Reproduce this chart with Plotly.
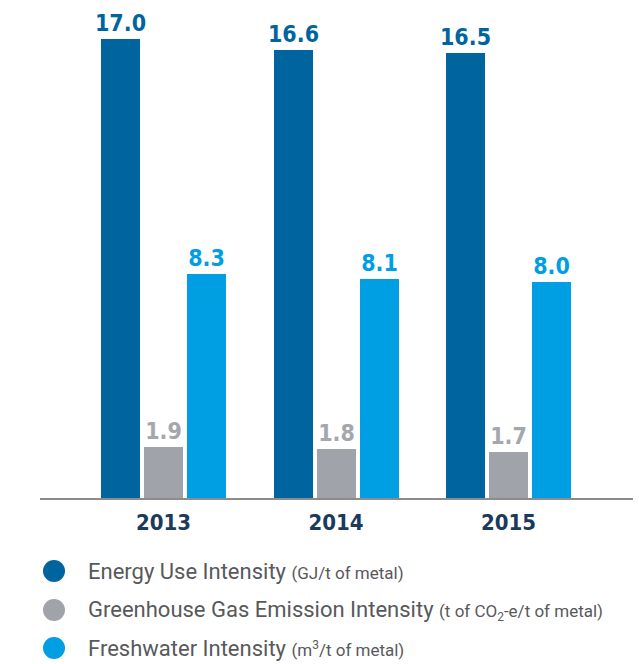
import plotly.graph_objects as go

years = ["2013", "2014", "2015"]
energy = [17.0, 16.6, 16.5]
ghg = [1.9, 1.8, 1.7]
freshwater = [8.3, 8.1, 8.0]

series_names = ["Energy Use Intensity", "Greenhouse Gas Emission Intensity", "Freshwater Intensity"]
series_units = ["(GJ/t of metal)", "(t of CO<sub>2</sub>-e/t of metal)", "(m<sup>3</sup>/t of metal)"]
bar_colors = ["#00649F", "#A0A4AA", "#009FE3"]
label_colors = ["#00649F", "#A4A7AC", "#009FE3"]

W, H = 639, 664
L, R, T, B = 40, 6, 0, 166
plot_w = W - L - R
plot_h = H - T - B

def px_x(px):
    return (px - L) / plot_w

def px_y(py):
    return (H - B - py) / plot_h

fig = go.Figure()

xs = list(range(len(years)))
bar_w = 0.226
offsets = [-0.362, -0.113, 0.136]
for vals, name, col, lcol, off in zip([energy, ghg, freshwater], series_names,
                                      bar_colors, label_colors, offsets):
    fig.add_trace(go.Bar(
        x=xs, y=vals, name=name, width=bar_w, offset=off,
        marker=dict(color=col, line=dict(width=0)),
        text=[f"{v:.1f}" for v in vals], textposition="outside",
        constraintext="none",
        textfont=dict(family="DejaVu Sans Condensed", size=23, color=lcol, weight="bold"),
        cliponaxis=False, showlegend=False,
    ))

px_per_unit = 27.0
fig.update_layout(
    width=W, height=H,
    margin=dict(l=L, r=R, t=T, b=B, pad=0),
    paper_bgcolor="white", plot_bgcolor="white",
    xaxis=dict(
        tickmode="array", tickvals=xs, ticktext=years,
        range=[-0.716, 2.721],
        showgrid=False, zeroline=False,
        showline=True, linecolor="#8C8C8C", linewidth=2,
        ticks="outside", ticklen=4, tickcolor="rgba(0,0,0,0)",
        tickfont=dict(family="DejaVu Sans Condensed", size=22, color="#1B3A5C", weight="bold"),
    ),
    yaxis=dict(range=[0, plot_h / px_per_unit], visible=False, showgrid=False, zeroline=False),
    bargap=0,
)

# legend: circle glyphs and labels below the plot
rows_y = [571, 610, 648]
shapes = []
annotations = []
for name, unit, col, ry in zip(series_names, series_units, bar_colors, rows_y):
    shapes.append(dict(
        type="circle", xref="paper", yref="paper",
        x0=px_x(43), x1=px_x(65), y0=px_y(ry + 11), y1=px_y(ry - 11),
        fillcolor=col, line=dict(width=0),
    ))
    annotations.append(dict(
        xref="paper", yref="paper", x=px_x(86), y=px_y(ry),
        xanchor="left", yanchor="middle", showarrow=False,
        text=f"{name} <span style='font-size:17px'>{unit}</span>",
        font=dict(family="Roboto", size=22, color="#58595B"),
    ))
fig.update_layout(shapes=shapes, annotations=annotations)

fig.write_html("out.html")
